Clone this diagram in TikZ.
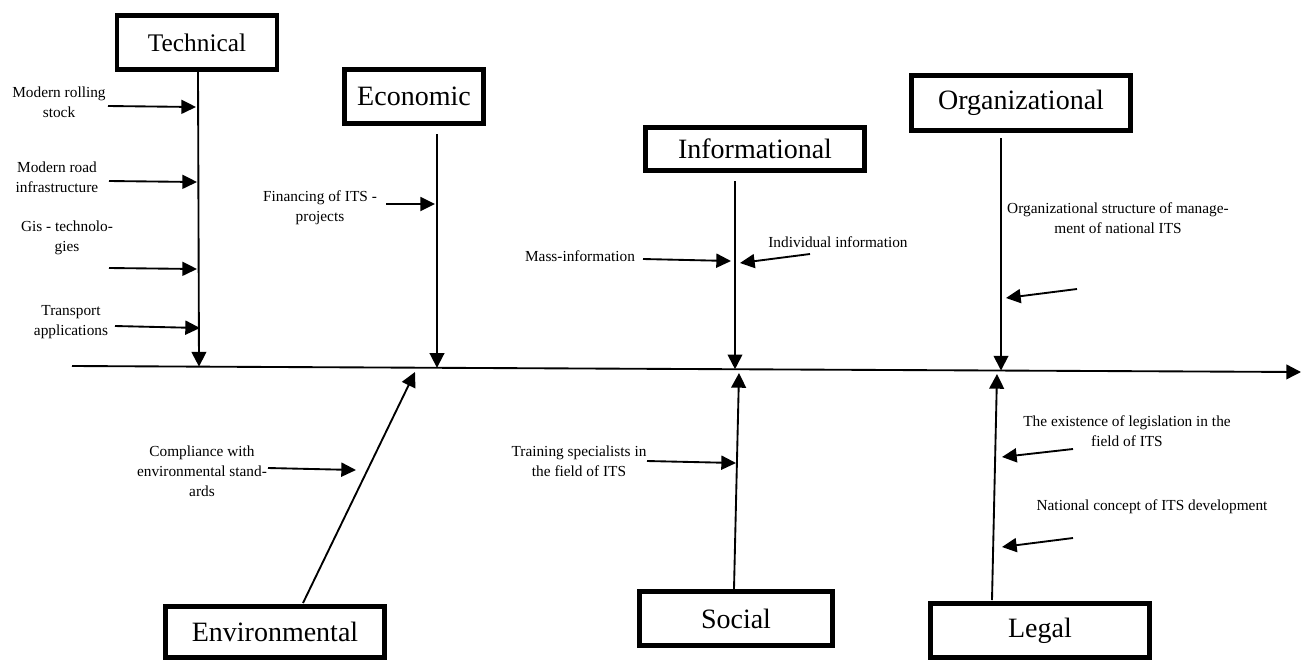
\documentclass[tikz,border=0pt]{standalone}
\usepackage{fontspec}
\setmainfont{Liberation Serif}
\usetikzlibrary{arrows.meta}
\tikzset{
  cat/.style={draw, line width=3.6pt, rectangle, inner sep=0pt, font=\fontsize{21}{24}\selectfont},
  lbl/.style={align=center, inner sep=0pt, font=\fontsize{11.5}{15}\selectfont},
  bone/.style={line width=1.4pt, -{Triangle[length=11pt,width=11pt]}},
  sub/.style={line width=1.4pt, -{Triangle[length=11pt,width=10.5pt]}},
}
\begin{document}
\begin{tikzpicture}[x=0.75pt,y=-0.75pt]
\useasboundingbox (0,0) rectangle (1304,662);
% spine
\coordinate (sl) at (72,366);
\coordinate (sr) at (1301,372);
\draw[bone] (sl) -- (sr);
% category boxes
\node[cat, minimum width=120pt, minimum height=40.5pt, font=\fontsize{19}{22}\selectfont] (tech) at (197,42.5) {Technical};
\node[cat, minimum width=104.25pt, minimum height=40.5pt] (econ) at (414,96.5) {Economic};
\node[cat, minimum width=164.25pt, minimum height=32.25pt] (info) at (755,149) {Informational};
\node[cat, minimum width=164.25pt, minimum height=41.25pt] (org) at (1021,103) {Organizational};
\node[cat, minimum width=164.25pt, minimum height=38.25pt] (env) at (275,632) {Environmental};
\node[cat, minimum width=144.75pt, minimum height=40.5pt] (soc) at (736,618.5) {Social};
\node[cat, minimum width=164.25pt, minimum height=40.5pt] (legal) at (1040,630.5) {Legal};
% bone ends
\coordinate (techS) at (198,72);   \coordinate (techE) at (199,366.6);
\coordinate (econS) at (437,134);  \coordinate (econE) at (437,367.8);
\coordinate (infoS) at (735,181);  \coordinate (infoE) at (735,369.2);
\coordinate (orgS) at (1001,138);  \coordinate (orgE) at (1001,370.5);
\coordinate (envS) at (303,603);   \coordinate (envE) at (415,372);
\coordinate (socS) at (734,589);   \coordinate (socE) at (739,373);
\coordinate (legS) at (992,600);   \coordinate (legE) at (997,374);
\draw[bone] (techS) -- (techE);
\draw[bone] (econS) -- (econE);
\draw[bone] (infoS) -- (infoE);
\draw[bone] (orgS) -- (orgE);
\draw[bone] (envS) -- (envE);
\draw[bone] (socS) -- (socE);
\draw[bone] (legS) -- (legE);
% Technical causes
\node[lbl] (t1) at (59,102.5) {Modern rolling\\stock};
\node[lbl] (t2) at (57,177.5) {Modern road\\infrastructure};
\node[lbl] (t3) at (67,237.5) {Gis - technolo-\\gies};
\node[lbl] (t4) at (71,322.5) {Transport\\applications};
\coordinate (a1s) at (108,106); \coordinate (a1e) at (196,107);
\coordinate (a2s) at (109,181); \coordinate (a2e) at (197,182);
\coordinate (a3s) at (109,268); \coordinate (a3e) at (197,269);
\coordinate (a4s) at (115,326); \coordinate (a4e) at (200,328);
\draw[sub] (a1s) -- (a1e);
\draw[sub] (a2s) -- (a2e);
\draw[sub] (a3s) -- (a3e);
\draw[sub] (a4s) -- (a4e);
% Economic
\node[lbl] (e1) at (320,208) {Financing of ITS -\\projects};
\coordinate (b1s) at (386,204); \coordinate (b1e) at (435,204);
\draw[sub] (b1s) -- (b1e);
% Informational
\node[lbl] (i1) at (580,256) {Mass-information};
\node[lbl] (i2) at (838,242) {Individual information};
\coordinate (c1s) at (643,259); \coordinate (c1e) at (731,261);
\coordinate (c2s) at (810,254); \coordinate (c2e) at (740,263);
\draw[sub] (c1s) -- (c1e);
\draw[sub] (c2s) -- (c2e);
% Organizational
\node[lbl] (o1) at (1118,218) {Organizational structure of manage-\\ment of national ITS};
\coordinate (d1s) at (1077,289); \coordinate (d1e) at (1006,298);
\draw[sub] (d1s) -- (d1e);
% Environmental
\node[lbl] (v1) at (202,471) {Compliance with\\environmental stand-\\ards};
\coordinate (f1s) at (268,468); \coordinate (f1e) at (356,470);
\draw[sub] (f1s) -- (f1e);
% Social
\node[lbl] (s1) at (579,461) {Training specialists in\\the field of ITS};
\coordinate (g1s) at (647,461); \coordinate (g1e) at (736,463);
\draw[sub] (g1s) -- (g1e);
% Legal
\node[lbl] (l1) at (1127,431) {The existence of legislation in the\\field of ITS};
\node[lbl] (l2) at (1152,507) {National concept of ITS development};
\coordinate (h1s) at (1073,449); \coordinate (h1e) at (1002,457);
\coordinate (h2s) at (1073,538); \coordinate (h2e) at (1002,547);
\draw[sub] (h1s) -- (h1e);
\draw[sub] (h2s) -- (h2e);
\end{tikzpicture}
\end{document}
